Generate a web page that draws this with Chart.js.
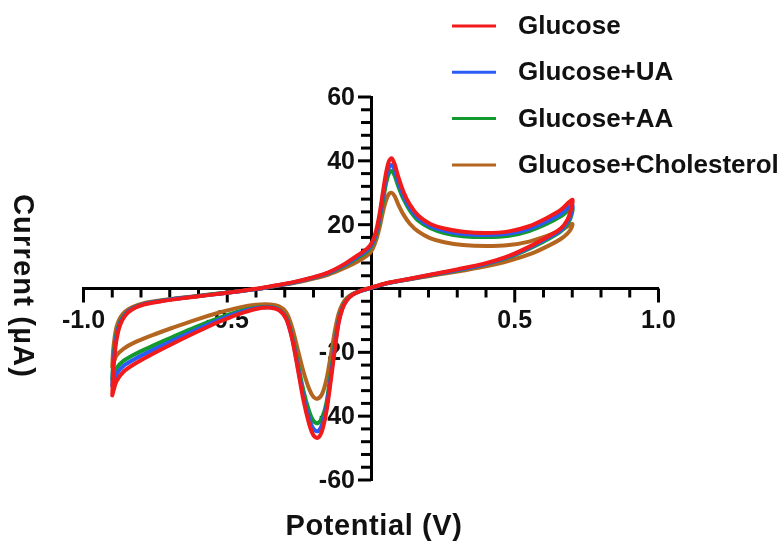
<!DOCTYPE html>
<html>
<head>
<meta charset="utf-8">
<script src="https://cdn.jsdelivr.net/npm/chart.js@4.4.1/dist/chart.umd.min.js"></script>
<style>
  html, body { margin: 0; padding: 0; background: #ffffff; }
  #wrap { width: 782px; height: 541px; position: relative; }
</style>
</head>
<body>
<div id="wrap"><canvas id="cv" width="782" height="541"></canvas></div>
<script>
// Cyclic voltammograms: forward sweep -0.9 V -> 0.7 V, then back to -0.9 V
const seriesNames = ['Glucose', 'Glucose+UA', 'Glucose+AA', 'Glucose+Cholesterol'];
const seriesColors = ['#f21b1b', '#2a5cf5', '#139a2c', '#b4651f'];

const potential = [
  -0.900, -0.897, -0.892, -0.885, -0.873, -0.855, -0.830, -0.790, -0.730, -0.650,
  -0.560, -0.480, -0.400, -0.330, -0.270, -0.210, -0.150, -0.090, -0.040, -0.010,
   0.005,  0.018,  0.030,  0.042,  0.053,  0.063,  0.072,  0.082,  0.095,  0.112,
   0.135,  0.165,  0.205,  0.255,  0.320,  0.400,  0.480,  0.550,  0.610,  0.660,
   0.700,
   0.695,  0.683,  0.660,  0.620,  0.560,  0.480,  0.390,  0.300,  0.210,  0.130,
   0.060,  0.020, -0.010, -0.040, -0.065, -0.085, -0.100, -0.113, -0.125, -0.140,
  -0.155, -0.170, -0.185, -0.200, -0.215, -0.235, -0.255, -0.275, -0.295, -0.320,
  -0.350, -0.400, -0.460, -0.530, -0.610, -0.690, -0.760, -0.820, -0.860, -0.885,
  -0.900
];

const currentGlucose = [
  -33.5, -27.0, -21.0, -16.0, -11.5,  -8.5,  -6.5,  -5.0,  -4.0,  -3.0,
   -2.0,  -1.1,  -0.1,   1.0,   2.0,   3.3,   5.0,   7.8,  10.8,  12.8,
   14.8,  18.2,  23.5,  30.5,  36.5,  40.0,  40.8,  39.0,  35.0,  30.5,
   26.3,  22.8,  20.3,  18.8,  17.8,  17.4,  17.9,  19.5,  22.0,  24.6,
   27.8,
   24.5,  21.5,  18.8,  16.5,  13.5,  10.2,   7.7,   6.0,   4.4,   3.0,
    1.8,   0.8,   0.0,  -0.9,  -2.0,  -3.8,  -6.5, -11.0, -18.5, -29.0,
  -38.5, -44.5, -46.8, -46.0, -42.5, -35.0, -25.0, -15.5,  -9.5,  -6.8,
   -6.0,  -6.4,  -8.0, -10.5, -13.8, -17.3, -20.5, -23.5, -26.0, -29.0,
  -33.5
];

const currentGlucoseUA = [
  -30.5, -25.0, -19.5, -15.0, -11.0,  -8.2,  -6.3,  -4.9,  -3.9,  -2.9,
   -2.0,  -1.1,  -0.2,   0.9,   1.9,   3.2,   4.8,   7.5,  10.4,  12.4,
   14.2,  17.4,  22.4,  29.0,  35.0,  38.0,  38.7,  37.2,  33.5,  29.3,
   25.3,  22.0,  19.6,  18.1,  17.1,  16.8,  17.2,  18.7,  21.0,  23.4,
   26.2,
   23.0,  20.8,  18.3,  16.1,  13.2,  10.0,   7.5,   5.8,   4.3,   2.9,
    1.7,   0.7,  -0.1,  -0.9,  -2.0,  -3.7,  -6.3, -10.6, -17.8, -27.8,
  -37.3, -42.6, -44.7, -44.0, -40.8, -33.8, -24.3, -15.2,  -9.3,  -6.7,
   -5.9,  -6.2,  -7.6,  -9.9, -13.0, -16.3, -19.3, -22.0, -24.2, -26.8,
  -30.5
];

const currentGlucoseAA = [
  -28.5, -23.5, -18.5, -14.2, -10.5,  -8.0,  -6.2,  -4.8,  -3.8,  -2.9,
   -1.9,  -1.1,  -0.2,   0.9,   1.8,   3.1,   4.7,   7.3,  10.0,  12.0,
   13.8,  16.8,  21.5,  27.5,  33.2,  36.2,  36.8,  35.4,  32.0,  28.2,
   24.5,  21.2,  19.0,  17.4,  16.4,  16.1,  16.5,  18.0,  20.2,  22.6,
   25.2,
   22.3,  20.2,  17.9,  15.7,  12.9,   9.8,   7.4,   5.7,   4.2,   2.9,
    1.7,   0.7,  -0.1,  -0.9,  -1.9,  -3.6,  -6.0, -10.2, -17.0, -26.5,
  -35.8, -40.4, -42.2, -41.5, -38.5, -32.0, -23.2, -14.6,  -9.0,  -6.6,
   -5.8,  -6.0,  -7.2,  -9.3, -12.1, -15.2, -18.0, -20.5, -22.6, -25.0,
  -28.5
];

const currentGlucoseChol = [
  -24.5, -19.5, -15.5, -12.0,  -9.2,  -7.2,  -5.8,  -4.6,  -3.7,  -2.8,
   -1.9,  -1.1,  -0.2,   0.8,   1.7,   2.9,   4.3,   6.5,   8.8,  10.6,
   12.3,  15.2,  19.2,  24.2,  27.8,  29.7,  30.0,  29.0,  26.3,  23.3,
   20.3,  17.8,  15.8,  14.5,  13.6,  13.3,  13.6,  14.7,  16.4,  18.2,
   20.2,
   18.6,  17.2,  15.5,  13.5,  11.0,   8.7,   6.8,   5.3,   4.0,   2.8,
    1.7,   0.8,   0.0,  -0.8,  -1.7,  -3.0,  -5.0,  -8.0, -13.0, -21.0,
  -28.5, -33.0, -34.5, -34.0, -31.5, -26.0, -19.0, -12.0,  -7.5,  -5.6,
   -5.0,  -5.1,  -6.0,  -7.6,  -9.8, -12.3, -14.6, -16.8, -18.8, -21.0,
  -24.5
];

const seriesCurrents = [currentGlucose, currentGlucoseUA, currentGlucoseAA, currentGlucoseChol];

const xMajorLabels = [-1.0, -0.5, 0.5, 1.0];
const yMajorLabels = [-60, -40, -20, 20, 40, 60];

const FONT = "'Liberation Sans', Arial, Helvetica, sans-serif";

function isMajor(value, list) {
  return list.some(v => Math.abs(v - value) < 1e-6);
}

// Tick marks (long at labelled values, short in between) and the current labels
const tickMarks = {
  id: 'tickMarks',
  beforeDatasetsDraw(chart) {
    const ctx = chart.ctx;
    const xs = chart.scales.x, ys = chart.scales.y;
    const x0 = xs.getPixelForValue(0);
    const y0 = ys.getPixelForValue(0);
    ctx.save();
    ctx.strokeStyle = '#000';
    ctx.lineWidth = 3;
    ctx.lineCap = 'butt';
    xs.ticks.forEach(t => {
      if (Math.abs(t.value) < 1e-6) return;
      const px = xs.getPixelForValue(t.value);
      const len = isMajor(t.value, xMajorLabels) ? 14 : 9;
      ctx.beginPath();
      ctx.moveTo(px, y0);
      ctx.lineTo(px, y0 + len);
      ctx.stroke();
    });
    ctx.fillStyle = '#111';
    ctx.font = 'bold 25px ' + FONT;
    ctx.textAlign = 'right';
    ctx.textBaseline = 'middle';
    ys.ticks.forEach(t => {
      if (Math.abs(t.value) < 1e-6) return;
      const py = ys.getPixelForValue(t.value);
      const major = isMajor(t.value, yMajorLabels);
      const len = major ? 13 : 10;
      ctx.beginPath();
      ctx.moveTo(x0, py);
      ctx.lineTo(x0 - len, py);
      ctx.stroke();
      if (major) ctx.fillText(String(Math.round(t.value)), x0 - 16, py + 1);
    });
    ctx.restore();
  }
};

// Axis titles and the legend block at the top right
const decorations = {
  id: 'decorations',
  afterDraw(chart) {
    const ctx = chart.ctx;
    ctx.save();
    ctx.fillStyle = '#111';
    ctx.font = 'bold 29px ' + FONT;
    ctx.letterSpacing = '0.6px';
    ctx.textAlign = 'center';
    ctx.textBaseline = 'middle';
    ctx.fillText('Potential (V)', 374, 527);
    ctx.translate(22, 286);
    ctx.rotate(Math.PI / 2);
    ctx.letterSpacing = '1.2px';
    ctx.fillText('Current (\u00B5A)', 0, 0);
    ctx.restore();

    ctx.save();
    ctx.font = 'bold 26px ' + FONT;
    ctx.textAlign = 'left';
    ctx.textBaseline = 'middle';
    chart.data.datasets.forEach((ds, i) => {
      const y = 26 + i * 46.3;
      ctx.strokeStyle = ds.borderColor;
      ctx.lineWidth = 3;
      ctx.beginPath();
      ctx.moveTo(452, y);
      ctx.lineTo(496, y);
      ctx.stroke();
      ctx.fillStyle = '#111';
      ctx.fillText(ds.label, 518, y + 1);
    });
    ctx.restore();
  }
};

const datasets = seriesNames.map((name, i) => ({
  label: name,
  data: potential.map((v, k) => ({ x: v, y: seriesCurrents[i][k] })),
  showLine: true,
  borderColor: seriesColors[i],
  backgroundColor: seriesColors[i],
  borderWidth: 4,
  pointRadius: 0,
  tension: 0.3,
  fill: false,
  borderJoinStyle: 'round',
  borderCapStyle: 'round'
}));

new Chart(document.getElementById('cv'), {
  type: 'scatter',
  data: { datasets },
  options: {
    responsive: false,
    animation: false,
    devicePixelRatio: 1,
    layout: { padding: { left: 83.5, right: 123.5, top: 97, bottom: 61 } },
    plugins: { legend: { display: false }, tooltip: { enabled: false }, title: { display: false } },
    scales: {
      x: {
        type: 'linear',
        min: -1, max: 1,
        position: { y: 0 },
        grid: { display: true, drawOnChartArea: false, drawTicks: true, tickLength: 13, tickColor: 'rgba(0,0,0,0)' },
        border: { display: true, color: '#000', width: 3 },
        ticks: {
          stepSize: 0.1,
          autoSkip: false,
          maxRotation: 0, minRotation: 0,
          padding: 5,
          color: '#111',
          font: { family: FONT, size: 25, weight: 'bold' },
          callback: v => isMajor(v, xMajorLabels) ? v.toFixed(1) : ''
        }
      },
      y: {
        type: 'linear',
        min: -60, max: 60,
        position: { x: 0 },
        grid: { display: true, drawOnChartArea: false, drawTicks: true, tickLength: 12, tickColor: 'rgba(0,0,0,0)' },
        border: { display: true, color: '#000', width: 3 },
        ticks: {
          stepSize: 4,
          autoSkip: false,
          display: false
        }
      }
    }
  },
  plugins: [tickMarks, decorations]
});
</script>
</body>
</html>
